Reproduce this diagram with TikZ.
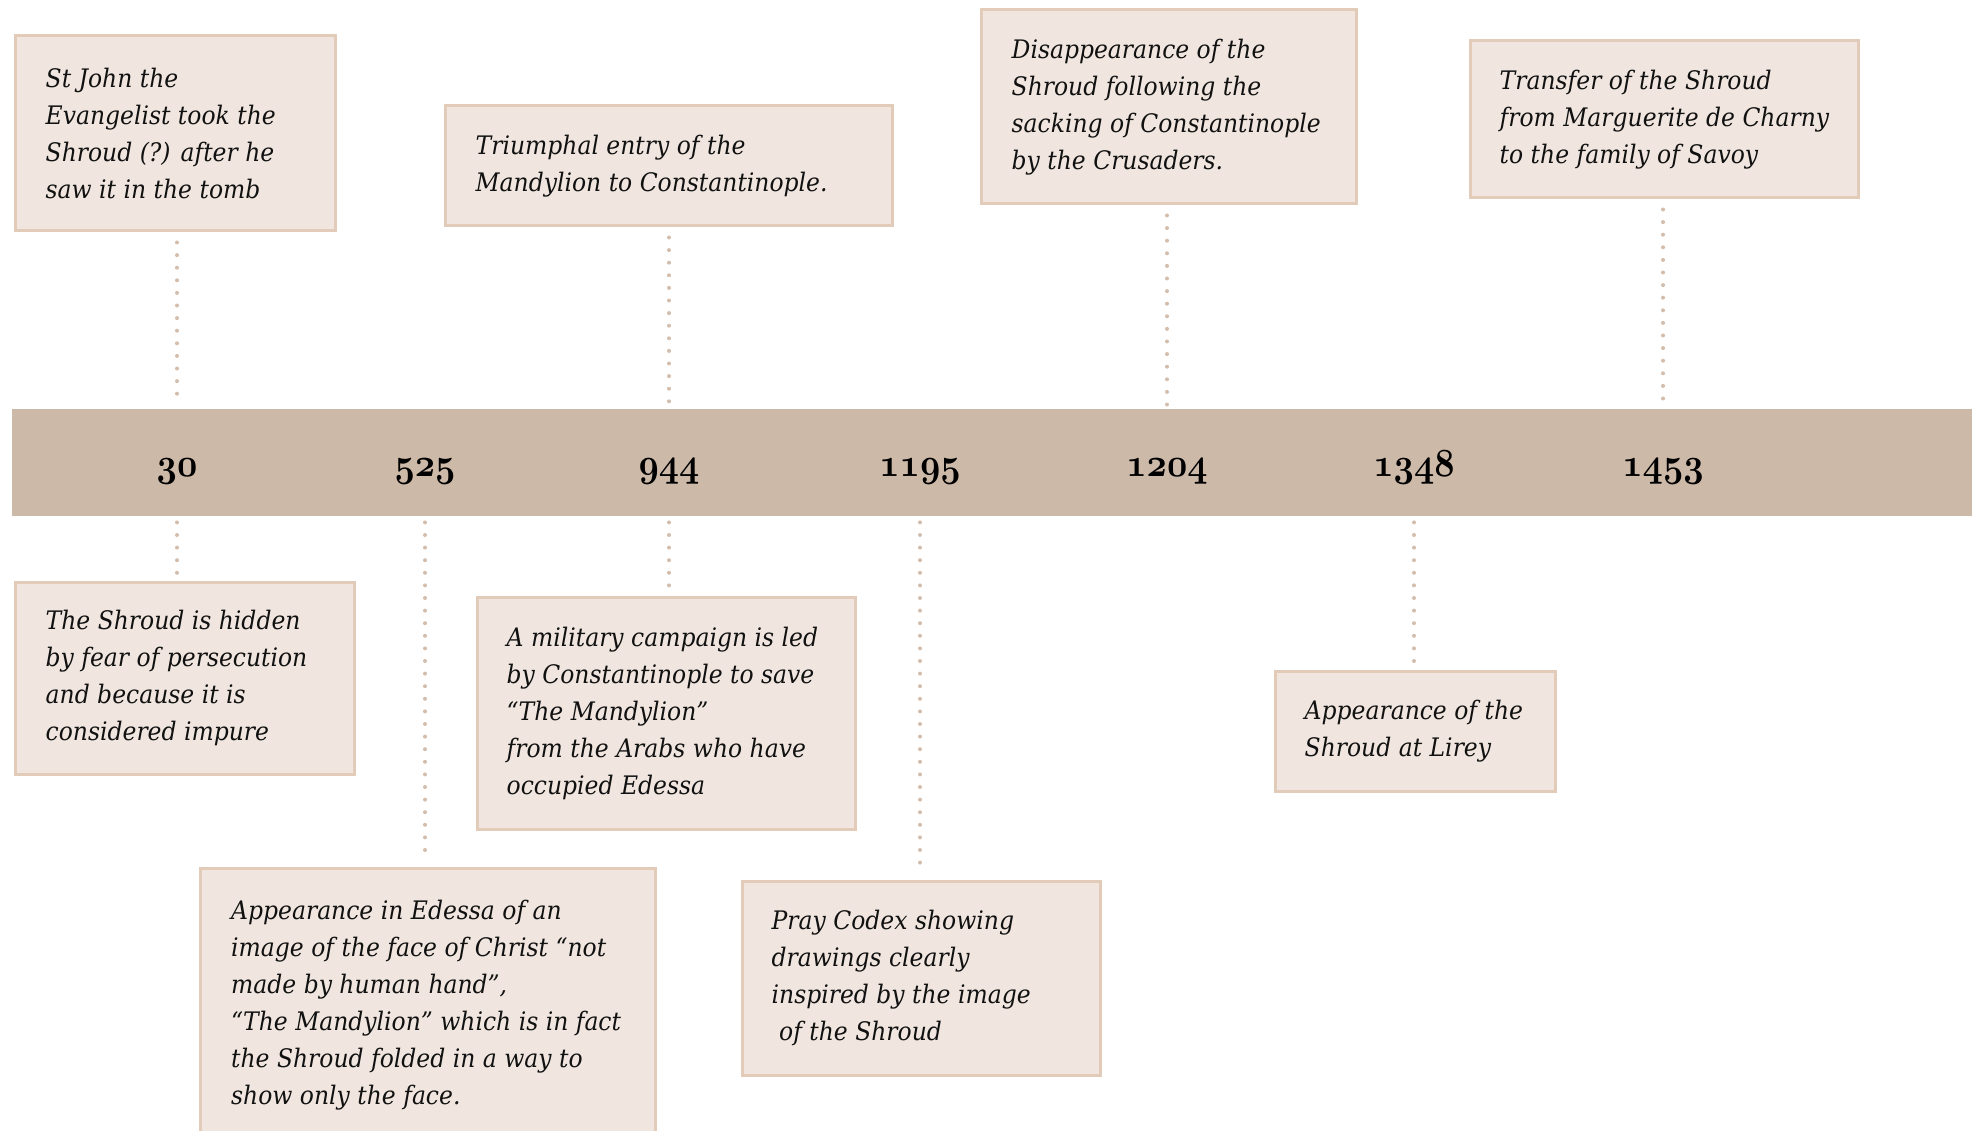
\documentclass[tikz,border=0pt]{standalone}
\usepackage[no-math]{fontspec}
\setmainfont{DejaVu Serif}[FakeStretch=0.92]
\definecolor{bandfill}{HTML}{CDB9A8}
\definecolor{boxfill}{HTML}{F0E6DF}
\definecolor{boxline}{HTML}{E2CBB8}
\definecolor{dotcol}{HTML}{D3BDAC}
\definecolor{inkcol}{HTML}{111111}
\tikzset{
  evbox/.style={draw=boxline, line width=3pt, fill=boxfill, rectangle, inner sep=0pt, anchor=north west},
  evtext/.style={align=left, inner sep=0pt, text=inkcol, font=\fontsize{25.5}{37}\selectfont\itshape},
  yeartext/.style={inner sep=0pt, anchor=base, text=black, xscale=1.42, yscale=1.6, transform shape, font=\fontsize{24.88}{30}\selectfont},
  dotline/.style={draw=dotcol, line width=4pt, line cap=round, dash pattern=on 0pt off 12.6pt},
}
\newcommand{\yearnum}[1]{{\usefont{OML}{cmm}{b}{it}#1}}
\begin{document}
\begin{tikzpicture}[x=1pt,y=1pt]
\useasboundingbox (0,0) rectangle (1972,-1131);
% band
\node[draw=none, fill=bandfill, minimum width=1970pt, minimum height=107pt, inner sep=0pt, anchor=north west] (band) at (12,-409) {};
% years
\node[yeartext] (y30) at (177,-476) {\yearnum{30}};
\node[yeartext] (y525) at (425,-476) {\yearnum{525}};
\node[yeartext] (y944) at (669,-476) {\yearnum{944}};
\node[yeartext] (y1195) at (920,-476) {\yearnum{1195}};
\node[yeartext] (y1204) at (1167,-476) {\yearnum{1204}};
\node[yeartext] (y1348) at (1414,-476) {\yearnum{1348}};
\node[yeartext] (y1453) at (1663,-476) {\yearnum{1453}};
% upper boxes
\node[evbox, minimum width=320pt, minimum height=195pt] (b1) at (13.5,-34.5) {};
\node[evtext, anchor=west] (t1) at ([xshift=32pt]b1.west) {St John the\\Evangelist took the\\Shroud (?) after he\\saw it in the tomb};
\node[evbox, minimum width=447pt, minimum height=120pt] (b2) at (443.5,-104.5) {};
\node[evtext, anchor=west] (t2) at ([xshift=32pt]b2.west) {Triumphal entry of the\\Mandylion to Constantinople.};
\node[evbox, minimum width=375pt, minimum height=194pt] (b3) at (979.5,-8.5) {};
\node[evtext, anchor=west] (t3) at ([xshift=32pt]b3.west) {Disappearance of the\\Shroud following the\\sacking of Constantinople\\by the Crusaders.};
\node[evbox, minimum width=388pt, minimum height=157pt] (b4) at (1468.5,-39.5) {};
\node[evtext, anchor=west] (t4) at ([xshift=31pt]b4.west) {Transfer of the Shroud\\from Marguerite de Charny\\to the family of Savoy};
% lower boxes
\node[evbox, minimum width=339pt, minimum height=192pt] (b5) at (13.5,-580.5) {};
\node[evtext, anchor=west] (t5) at ([xshift=32pt]b5.west) {The Shroud is hidden\\by fear of persecution\\and because it is\\considered impure};
\node[evbox, minimum width=378pt, minimum height=232pt] (b6) at (475.5,-595.5) {};
\node[evtext, anchor=west] (t6) at ([xshift=31pt]b6.west) {A military campaign is led\\by Constantinople to save\\“The Mandylion”\\from the Arabs who have\\occupied Edessa};
\node[evbox, minimum width=455pt, minimum height=300pt] (b7) at (198.5,-866.5) {};
\node[evtext, anchor=north west] (t7) at (231,-900) {Appearance in Edessa of an\\image of the face of Christ “not\\made by human hand”,\\“The Mandylion” which is in fact\\the Shroud folded in a way to\\show only the face.};
\node[evbox, minimum width=358pt, minimum height=194pt] (b8) at (740.5,-879.5) {};
\node[evtext, anchor=west] (t8) at ([xshift=31pt]b8.west) {Pray Codex showing\\drawings clearly\\inspired by the image\\\ of the Shroud};
\node[evbox, minimum width=280pt, minimum height=120pt] (b9) at (1273.5,-669.5) {};
\node[evtext, anchor=west] (t9) at ([xshift=31pt]b9.west) {Appearance of the\\Shroud at Lirey};
% connectors
\draw[dotline, shorten <=10pt, shorten >=4pt] (b1.south -| y30) -- (band.north -| y30);
\draw[dotline, shorten <=10pt, shorten >=4pt] (b2.south -| y944) -- (band.north -| y944);
\draw[dotline, shorten <=10pt, shorten >=4pt] (b3.south -| y1204) -- (band.north -| y1204);
\draw[dotline, shorten <=10pt, shorten >=4pt] (b4.south -| y1453) -- (band.north -| y1453);
\draw[dotline, shorten <=6pt, shorten >=6pt] (band.south -| y30) -- (b5.north -| y30);
\draw[dotline, shorten <=6pt, shorten >=6pt] (band.south -| y525) -- (b7.north -| y525);
\draw[dotline, shorten <=6pt, shorten >=6pt] (band.south -| y944) -- (b6.north -| y944);
\draw[dotline, shorten <=6pt, shorten >=6pt] (band.south -| y1195) -- (b8.north -| y1195);
\draw[dotline, shorten <=6pt, shorten >=6pt] (band.south -| y1348) -- (b9.north -| y1348);
\end{tikzpicture}
\end{document}
